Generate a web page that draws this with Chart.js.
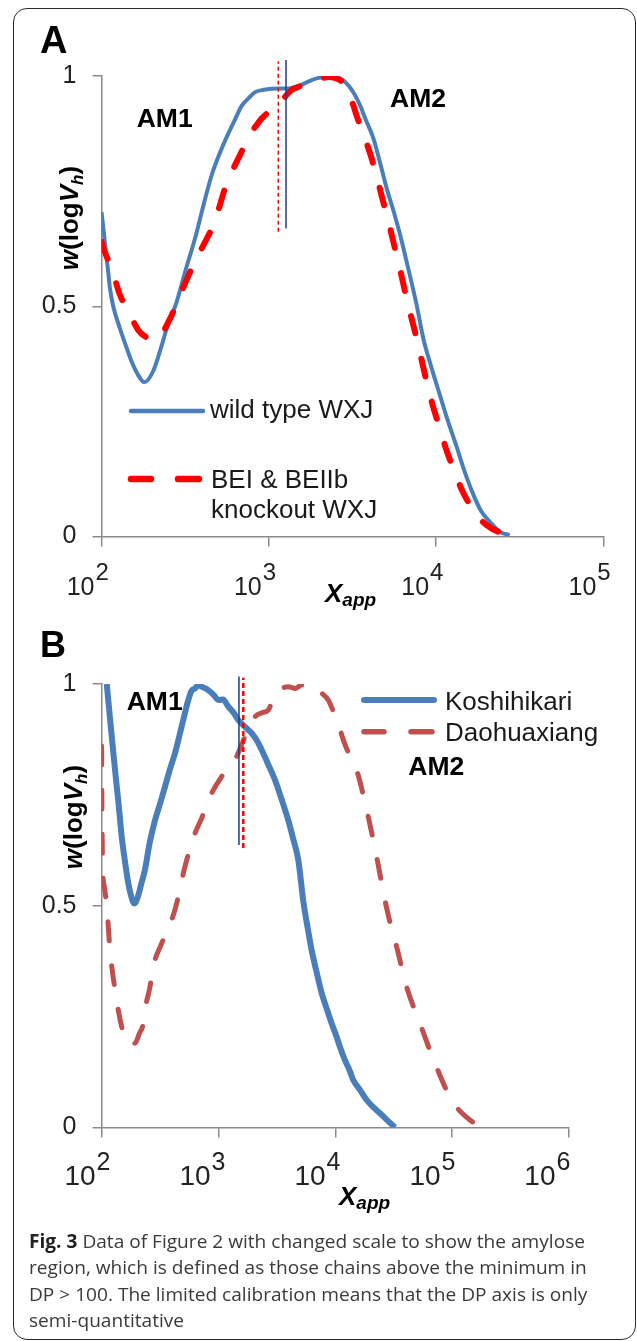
<!DOCTYPE html>
<html><head><meta charset="utf-8">
<script src="https://cdn.jsdelivr.net/npm/chart.js@4.4.1/dist/chart.umd.min.js"></script>
<style>
html,body{margin:0;padding:0;background:#fff;}
#page{position:relative;width:637px;height:1341px;overflow:hidden;font-family:"Liberation Sans",Arial,sans-serif;color:#1a1a1a;}
.frame{position:absolute;left:13px;top:8px;width:623px;height:1332px;box-sizing:border-box;border:1.5px solid #2a2a2a;border-radius:14px;}
canvas{position:absolute;left:0;}
.t{position:absolute;white-space:nowrap;}
.lbl{font-weight:bold;color:#000;}
.am{font-weight:bold;font-size:26.5px;line-height:26.5px;color:#000;}
.leg{font-size:26px;line-height:26px;color:#1a1a1a;}
.yt{position:absolute;white-space:nowrap;font-weight:bold;font-size:26px;line-height:26px;color:#000;transform:translate(-50%,-50%) rotate(-90deg);}
.yt .sb{font-size:17px;position:relative;top:5px;}
.xt{position:absolute;white-space:nowrap;font-weight:bold;font-style:italic;font-size:26px;line-height:26px;color:#000;}
.xt .sb{font-size:19px;position:relative;top:4px;}
#cap{position:absolute;left:29px;top:1227.6px;font-family:"Open Sans","Noto Sans",sans-serif;font-size:19px;line-height:26.6px;color:#3a3a3a;transform-origin:0 0;white-space:nowrap;}
#cap b{color:#222;}
svg{position:absolute;left:0;top:0;}
</style></head>
<body><div id="page">
<div class="frame"></div>
<canvas id="cA" width="637" height="615" style="top:0"></canvas>
<canvas id="cB" width="637" height="615" style="top:615px"></canvas>

<div class="t lbl" style="left:40px;top:20.8px;font-size:38px;line-height:38px;">A</div>
<div class="t lbl" style="left:40px;top:626.5px;font-size:36px;line-height:36px;">B</div>

<div class="t am" style="left:136.7px;top:105.3px;">AM1</div>
<div class="t am" style="left:390px;top:85.3px;">AM2</div>
<div class="t am" style="left:126.7px;top:687.6px;">AM1</div>
<div class="t am" style="left:408.3px;top:752.6px;">AM2</div>

<div class="yt" style="left:71px;top:217.5px;"><i>w</i>(log<i>V</i><span class="sb"><i>h</i></span>)</div>
<div class="yt" style="left:75px;top:816.7px;"><i>w</i>(log<i>V</i><span class="sb"><i>h</i></span>)</div>

<div class="xt" style="left:325px;top:580px;">X<span class="sb">app</span></div>
<div class="xt" style="left:339px;top:1183px;">X<span class="sb">app</span></div>

<div class="t leg" style="left:210px;top:396.3px;">wild type WXJ</div>
<div class="t leg" style="left:211px;top:465.7px;">BEI &amp; BEIIb</div>
<div class="t leg" style="left:211px;top:495.7px;">knockout WXJ</div>
<div class="t leg" style="left:445px;top:688px;">Koshihikari</div>
<div class="t leg" style="left:445px;top:719px;">Daohuaxiang</div>

<svg width="637" height="1341">
  <line x1="131" y1="411" x2="203" y2="411" stroke="#4a7ebb" stroke-width="4.5" stroke-linecap="round"/>
  <line x1="131" y1="479" x2="151" y2="479" stroke="#ff0000" stroke-width="6.5" stroke-linecap="round"/>
  <line x1="178" y1="479" x2="199" y2="479" stroke="#ff0000" stroke-width="6.5" stroke-linecap="round"/>
  <line x1="364" y1="700" x2="434" y2="700" stroke="#4a7ebb" stroke-width="6" stroke-linecap="round"/>
  <line x1="364" y1="731.7" x2="384" y2="731.7" stroke="#c0504d" stroke-width="5.5" stroke-linecap="round"/>
  <line x1="411" y1="731.7" x2="432" y2="731.7" stroke="#c0504d" stroke-width="5.5" stroke-linecap="round"/>
</svg>

<div id="cap">
<div><b>Fig. 3</b> <span>Data of Figure 2 with changed scale to show the amylose</span></div>
<div>region, which is defined as those chains above the minimum in</div>
<div>DP &gt; 100. The limited calibration means that the DP axis is only</div>
<div>semi-quantitative</div>
</div>
</div>

<script>
// ---------- Panel A data (x given as log10 of X_app) ----------
const aWildLogX = [2.00,2.02,2.04,2.05,2.07,2.11,2.15,2.18,2.22,2.256,2.31,2.36,2.39,2.45,2.50,2.559,2.61,2.659,2.71,2.758,2.80,2.838,2.88,2.918,2.97,3.057,3.117,3.19,3.256,3.30,3.356,3.40,3.44,3.475,3.51,3.545,3.58,3.625,3.665,3.705,3.745,3.784,3.83,3.884,3.924,3.97,4.023,4.07,4.123,4.17,4.222,4.27,4.322,4.382,4.44];
const aWildY    = [0.705,0.64,0.575,0.54,0.50,0.452,0.41,0.38,0.35,0.335,0.36,0.415,0.452,0.51,0.575,0.647,0.72,0.785,0.835,0.875,0.907,0.935,0.952,0.965,0.97,0.973,0.973,0.98,0.991,0.996,0.998,0.998,0.992,0.98,0.962,0.937,0.905,0.865,0.812,0.756,0.708,0.657,0.588,0.503,0.43,0.37,0.307,0.252,0.195,0.142,0.092,0.055,0.032,0.01,0.003];
const aKoLogX   = [2.00,2.011,2.061,2.11,2.16,2.22,2.27,2.30,2.34,2.40,2.45,2.50,2.559,2.61,2.659,2.70,2.738,2.79,2.838,2.877,2.92,2.958,3.037,3.09,3.137,3.19,3.236,3.30,3.356,3.40,3.436,3.47,3.505,3.525,3.57,3.615,3.65,3.684,3.72,3.754,3.79,3.824,3.884,3.944,3.98,4.023,4.06,4.103,4.15,4.203,4.25,4.302,4.382,4.47];
const aKoY      = [0.64,0.626,0.582,0.525,0.49,0.448,0.432,0.427,0.43,0.466,0.505,0.55,0.597,0.633,0.669,0.71,0.756,0.80,0.836,0.868,0.89,0.908,0.933,0.952,0.970,0.978,0.984,0.993,0.998,0.995,0.988,0.965,0.937,0.914,0.87,0.821,0.775,0.727,0.677,0.626,0.572,0.517,0.43,0.336,0.285,0.235,0.19,0.148,0.105,0.068,0.043,0.025,0.009,0.004];
const aWildMarkX = [1268,1268];
const aWildMarkY = [0.669,1.035];
const aKoMarkX   = [1140,1140];
const aKoMarkY   = [0.662,1.032];

// ---------- Panel B data ----------
const bKoshLogX = [2.044,2.08,2.115,2.145,2.172,2.20,2.228,2.255,2.28,2.31,2.34,2.371,2.41,2.457,2.50,2.542,2.585,2.628,2.685,2.742,2.77,2.799,2.83,2.856,2.89,2.927,2.96,2.998,3.04,3.084,3.13,3.169,3.22,3.284,3.33,3.37,3.42,3.483,3.54,3.597,3.64,3.683,3.726,3.77,3.797,3.84,3.883,3.93,3.968,4.01,4.039,4.082,4.12,4.153,4.21,4.268,4.32,4.382,4.45,4.51];
const bKoshY    = [1.0,0.90,0.806,0.73,0.656,0.60,0.551,0.52,0.505,0.52,0.55,0.581,0.64,0.693,0.73,0.768,0.808,0.844,0.904,0.964,0.985,0.99,0.998,0.994,0.99,0.983,0.975,0.964,0.965,0.949,0.935,0.919,0.905,0.889,0.872,0.851,0.822,0.784,0.74,0.693,0.65,0.603,0.51,0.44,0.40,0.35,0.303,0.265,0.235,0.205,0.182,0.152,0.13,0.107,0.085,0.062,0.047,0.032,0.015,0.0];
const bDaoLogX  = [2.0,2.002,2.005,2.01,2.025,2.044,2.072,2.115,2.172,2.21,2.25,2.286,2.32,2.357,2.371,2.414,2.442,2.514,2.6,2.642,2.713,2.799,2.86,2.913,3.027,3.141,3.227,3.312,3.37,3.426,3.483,3.54,3.597,3.66,3.712,3.77,3.826,3.88,3.939,3.98,4.025,4.068,4.12,4.182,4.268,4.353,4.424,4.47,4.524,4.61,4.724,4.852,4.995,5.151,5.265];
const bDaoY     = [0.86,0.75,0.65,0.58,0.54,0.50,0.40,0.31,0.227,0.20,0.205,0.19,0.21,0.235,0.265,0.317,0.363,0.415,0.468,0.505,0.588,0.663,0.70,0.738,0.791,0.829,0.881,0.926,0.935,0.941,0.979,0.99,0.994,0.99,0.998,0.99,0.994,0.98,0.964,0.94,0.911,0.874,0.84,0.806,0.716,0.611,0.513,0.46,0.408,0.317,0.235,0.145,0.062,0.017,0.0];
const bKoshMarkX = [1497,1497];
const bKoshMarkY = [0.637,1.017];
const bDaoMarkX  = [1630,1630];
const bDaoMarkY  = [0.63,1.014];

// ---------- Tick labels ----------
const xTickExpA = [2,3,4,5];
const xTickExpB = [2,3,4,5,6];
const yTickValues = [0,0.5,1];
const yTickLabels = ["0","0.5","1"];

const fromLog = (lx, y) => lx.map((v,i)=>({x: Math.pow(10,v), y: y[i]}));
const direct  = (x, y) => x.map((v,i)=>({x: v, y: y[i]}));

const tickLabelPlugin = {
  id:'tickLabels',
  afterDraw(chart, args, o){
    const ctx = chart.ctx, xs = chart.scales.x, ys = chart.scales.y;
    ctx.save();
    ctx.fillStyle = '#222';
    ctx.font = o.yFont; ctx.textAlign = 'right'; ctx.textBaseline = 'middle';
    yTickValues.forEach((v,i)=>ctx.fillText(yTickLabels[i], o.yRight, ys.getPixelForValue(v)));
    ctx.textBaseline = 'alphabetic';
    (o.exps || []).forEach((e,i)=>{
      const px = xs.getPixelForValue(Math.pow(10,e)) + o.off + o.offStep*i;
      ctx.font = o.baseFont; ctx.textAlign = 'right';
      ctx.fillText('10', px, o.baseY);
      ctx.font = o.expFont; ctx.textAlign = 'left';
      ctx.fillText(String(e), px + 1, o.expY);
    });
    ctx.restore();
  }
};

function axisCommon(){
  return {
    ticks:{display:false},
    grid:{display:true, drawOnChartArea:false, drawTicks:true, tickLength:9, color:'#8a8a8a', lineWidth:1.5},
    border:{display:true, color:'#8a8a8a', width:1.5}
  };
}

function makeChart(id, cfg){
  const xAxis = Object.assign(axisCommon(), {
    type:'logarithmic', min:100, max:cfg.xMax,
    afterBuildTicks: s => { s.ticks = cfg.exps.map(e=>({value: Math.pow(10,e)})); },
    afterFit: s => { s.height = cfg.xHeight; }
  });
  xAxis.grid = Object.assign({}, xAxis.grid, {tickLength:10});
  const yAxis = Object.assign(axisCommon(), {
    type:'linear', min:0, max:1,
    afterBuildTicks: s => { s.ticks = yTickValues.map(v=>({value:v})); },
    afterFit: s => { s.width = cfg.yWidth; }
  });
  const labels = Object.assign({exps: cfg.exps}, cfg.labels);
  return new Chart(document.getElementById(id), {
    type:'line',
    data:{datasets: cfg.datasets},
    options:{
      responsive:false, animation:false, devicePixelRatio:1,
      layout:{padding:{top:cfg.padTop, right:cfg.padRight, left:0, bottom:0}},
      plugins:{legend:{display:false}, tooltip:{enabled:false}, tickLabels: labels},
      elements:{point:{radius:0}, line:{borderJoinStyle:'round'}},
      scales:{x:xAxis, y:yAxis}
    },
    plugins:[tickLabelPlugin]
  });
}

const markLine = (data, color, width, dash) => ({data, borderColor:color, borderWidth:width, borderDash:dash, clip:false, pointRadius:0, tension:0});

makeChart('cA', {
  xMax:1e5, exps:xTickExpA, xHeight:615-536.5, yWidth:101.5, padTop:76, padRight:637-603.3,
  labels:{yFont:'25px "Liberation Sans"', yRight:76.5, baseFont:'25px "Liberation Sans"', expFont:'24px "Liberation Sans"', baseY:595, expY:580, off:-7, offStep:0},
  datasets:[
    markLine(direct(aWildMarkX, aWildMarkY), '#1f3b82', 1.5, []),
    markLine(direct(aKoMarkX, aKoMarkY), '#ff0000', 1.5, [4,3]),
    {data: fromLog(aKoLogX, aKoY), borderColor:'#ff0000', borderWidth:6, borderDash:[18,26], borderCapStyle:'round', cubicInterpolationMode:'monotone', pointRadius:0},
    {data: fromLog(aWildLogX, aWildY), borderColor:'#4a7ebb', borderWidth:4, cubicInterpolationMode:'monotone', pointRadius:0}
  ]
});

makeChart('cB', {
  xMax:1e6, exps:xTickExpB, xHeight:615-512.5, yWidth:101.6, padTop:69, padRight:637-569.1,
  labels:{yFont:'25px "Liberation Sans"', yRight:76.5, baseFont:'28px "Liberation Sans"', expFont:'25px "Liberation Sans"', baseY:570, expY:555, off:-6, offStep:-1.9},
  datasets:[
    markLine(direct(bKoshMarkX, bKoshMarkY), '#1f3b82', 1.5, []),
    markLine(direct(bDaoMarkX, bDaoMarkY), '#ff0000', 2.5, [5,3]),
    {data: fromLog(bDaoLogX, bDaoY), borderColor:'#c0504d', borderWidth:5, borderDash:[19,25], borderCapStyle:'round', cubicInterpolationMode:'monotone', pointRadius:0},
    {data: fromLog(bKoshLogX, bKoshY), borderColor:'#4a7ebb', borderWidth:6, cubicInterpolationMode:'monotone', pointRadius:0}
  ]
});

// fit caption width to the reference line length
(function(){
  const cap = document.getElementById('cap');
  const first = cap.firstElementChild;
  const r = document.createRange(); r.selectNodeContents(first);
  const w = r.getBoundingClientRect().width;
  const s = 556 / w;
  cap.style.transform = 'scaleX(' + s.toFixed(4) + ')';
})();
</script>
</body></html>
